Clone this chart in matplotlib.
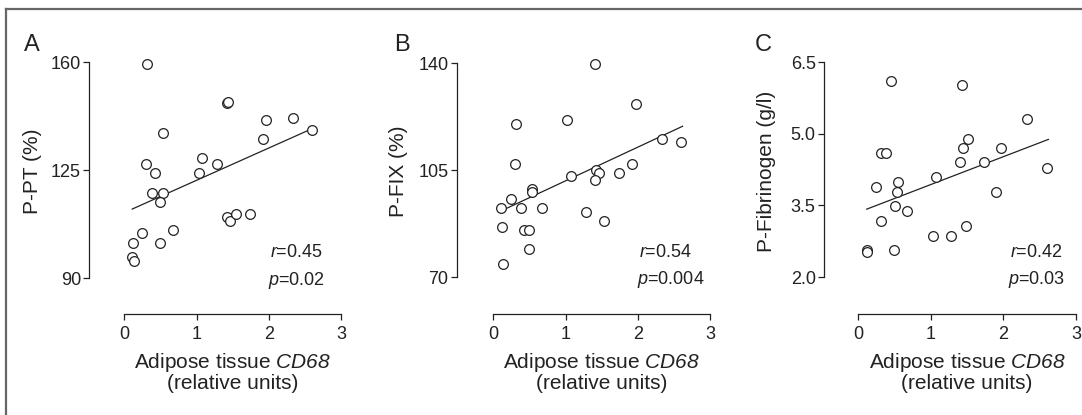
import numpy as np
import matplotlib.pyplot as plt
from matplotlib.lines import Line2D

plt.rcParams['font.family'] = ['Liberation Sans', 'DejaVu Sans']
plt.rcParams['mathtext.fontset'] = 'custom'
plt.rcParams['mathtext.rm'] = 'Liberation Sans'
plt.rcParams['mathtext.it'] = 'Liberation Sans:italic'
plt.rcParams['mathtext.sf'] = 'Liberation Sans:italic'

# panel A: P-PT (%)
a_x = [0.32, 1.42, 1.43, 1.96, 2.34, 2.60, 1.92, 0.54, 1.08, 1.28, 1.03, 0.30, 0.43,
       0.39, 0.54, 0.49, 1.42, 1.47, 1.54, 1.74, 0.68, 0.25, 0.12, 0.50, 0.11, 0.14]
a_y = [159.2, 146.6, 147.1, 141.2, 142.0, 138.1, 134.9, 137.1, 129.0, 127.0, 123.9, 126.9, 123.9,
       117.7, 117.7, 114.7, 109.8, 108.5, 110.9, 110.9, 105.7, 104.6, 101.5, 101.5, 96.7, 95.6]

# panel B: P-FIX (%)
b_x = [1.41, 1.97, 1.02, 0.31, 2.33, 2.60, 0.30, 1.92, 1.08, 1.42, 1.46, 1.41, 1.74,
       0.53, 0.54, 0.24, 0.11, 0.38, 0.67, 1.28, 1.53, 0.12, 0.43, 0.49, 0.49, 0.13]
b_y = [139.7, 126.5, 121.2, 120.2, 115.1, 114.1, 106.9, 106.9, 102.9, 105.0, 103.9, 101.7, 103.9,
       98.9, 97.9, 95.6, 92.6, 92.6, 92.6, 91.4, 88.4, 86.4, 85.5, 85.5, 79.2, 74.2]

# panel C: P-Fibrinogen (g/l)
c_x = [0.45, 1.43, 2.33, 1.52, 1.44, 1.97, 0.32, 0.38, 1.40, 1.74, 2.60, 1.08, 0.25,
       0.55, 0.54, 1.90, 0.51, 0.68, 0.32, 1.48, 1.03, 1.28, 0.49, 0.12, 0.13]
c_y = [6.11, 6.01, 5.30, 4.89, 4.70, 4.70, 4.59, 4.59, 4.40, 4.40, 4.29, 4.09, 3.88,
       3.98, 3.77, 3.77, 3.48, 3.38, 3.18, 3.07, 2.86, 2.86, 2.56, 2.57, 2.52]

# regression lines (slope, intercept)
fits = [(10.46, 111.2), (11.02, 90.43), (0.584, 3.35)]
stats = [('0.45', '0.02'), ('0.54', '0.004'), ('0.42', '0.03')]
ylabels = ['P-PT (%)', 'P-FIX (%)', 'P-Fibrinogen (g/l)']
yticks = [[90, 125, 160], [70, 105, 140], [2.0, 3.5, 5.0, 6.5]]
yticklabels = [['90', '125', '160'], ['70', '105', '140'], ['2.0', '3.5', '5.0', '6.5']]
letters = ['A', 'B', 'C']

fig = plt.figure(figsize=(10.82, 4.15), dpi=100)
W, H = 1082, 415

# axes boxes in pixels: x0 left, x3 right, y top, y bottom; spine offsets
boxes = [(124.3, 341.0, 62, 278, 35, 36),
         (493.3, 710.0, 63, 277, 36.5, 37),
         (858.0, 1076.0, 62, 277, 34, 37)]
letter_x = [32, 402, 763]
ylab_x = [32, 399, 766]
stat_x = [0.672, 0.672, 0.697]

ink = '#222222'
data = [(a_x, a_y), (b_x, b_y), (c_x, c_y)]

for i in range(3):
    x0, x1, yt, yb, offl, offb = boxes[i]
    ax = fig.add_axes([x0 / W, 1 - yb / H, (x1 - x0) / W, (yb - yt) / H])
    xs, ys = data[i]
    ax.plot(xs, ys, 'o', ms=7.0, mfc='white', mec=ink, mew=0.9, clip_on=False, zorder=3)
    slope, icpt = fits[i]
    lx = np.array([min(xs), max(xs) + 0.02])
    ax.plot(lx, slope * lx + icpt, color=ink, lw=0.9, zorder=2)

    ax.set_xlim(0, 3)
    ax.set_ylim(yticks[i][0], yticks[i][-1])
    ax.set_xticks([0, 1, 2, 3])
    ax.set_yticks(yticks[i])
    ax.set_yticklabels(yticklabels[i])
    for s in ['top', 'right']:
        ax.spines[s].set_visible(False)
    ax.spines['left'].set_position(('outward', offl * 0.72))
    ax.spines['bottom'].set_position(('outward', offb * 0.72))
    for s in ['left', 'bottom']:
        ax.spines[s].set_color(ink)
        ax.spines[s].set_linewidth(0.9)
    ax.tick_params(length=4.5, width=0.9, color=ink, labelsize=13, labelcolor=ink)
    ax.tick_params(axis='x', pad=4.0)
    ax.tick_params(axis='y', pad=1.5)

    r, p = stats[i]
    ax.text(stat_x[i], 0.116, '$r$=' + r, transform=ax.transAxes, ha='left', va='center',
            fontsize=13, color=ink)
    ax.text(stat_x[i] - 0.01, -0.012, '$p$=' + p, transform=ax.transAxes, ha='left', va='center',
            fontsize=13, color=ink)

    fig.text((x0 + x1) / 2 / W, 1 - 372 / H,
             'Adipose tissue $\\mathsf{CD68}$\n(relative units)',
             ha='center', va='center', fontsize=15, color=ink, linespacing=1.05)
    fig.text(ylab_x[i] / W, 1 - 171 / H, ylabels[i], rotation=90,
             ha='center', va='center', fontsize=15, color=ink)
    fig.text(letter_x[i] / W, 1 - 45 / H, letters[i], ha='center', va='center',
             fontsize=17, color=ink)

# frame lines along top and left edge
fig.add_artist(Line2D([6 / W, 1], [1 - 9 / H, 1 - 9 / H], color='#666666', lw=1.6,
                      transform=fig.transFigure))
fig.add_artist(Line2D([6 / W, 6 / W], [0, 1 - 9 / H], color='#666666', lw=1.6,
                      transform=fig.transFigure))

fig.savefig('out.png', dpi=100)
